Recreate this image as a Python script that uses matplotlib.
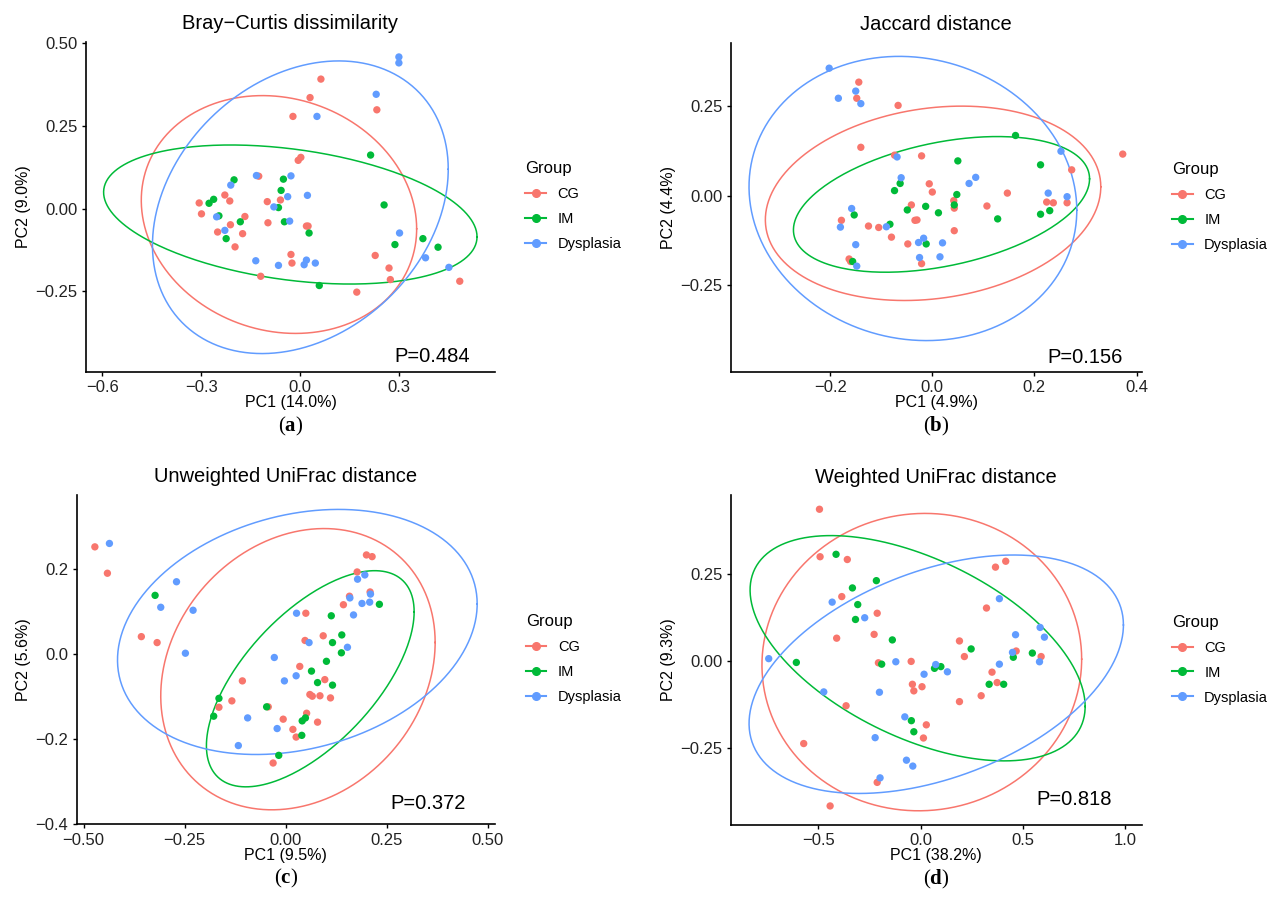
import numpy as np
import matplotlib
matplotlib.use("Agg")
import matplotlib.pyplot as plt
from matplotlib.lines import Line2D

plt.rcParams['font.family'] = ['Liberation Sans', 'DejaVu Sans']
plt.rcParams['mathtext.fontset'] = 'custom'
plt.rcParams['mathtext.rm'] = 'Liberation Serif'
plt.rcParams['mathtext.bf'] = 'Liberation Serif:bold'

groups = ["CG", "IM", "Dysplasia"]
colors = ["#F8766D", "#00BA38", "#619CFF"]

# (a) Bray-Curtis
a_cg_x = [-0.125, -0.228, -0.213, -0.306, -0.299, -0.167, -0.211, -0.250, -0.174, -0.197, -0.119, 0.064, 0.031, 0.234, -0.021, 0.003, -0.005, -0.099, -0.059, -0.097, 0.020, 0.025, -0.027, -0.024, 0.229, 0.271, 0.275, 0.486, 0.173]
a_cg_y = [0.098, 0.041, 0.023, 0.017, -0.016, -0.024, -0.049, -0.071, -0.076, -0.116, -0.205, 0.392, 0.336, 0.299, 0.279, 0.155, 0.146, 0.021, 0.026, -0.043, -0.053, -0.053, -0.139, -0.165, -0.142, -0.180, -0.215, -0.220, -0.253]
a_im_x = [-0.200, -0.262, -0.276, -0.246, -0.181, -0.224, 0.215, -0.050, -0.057, -0.065, 0.256, -0.047, 0.028, 0.374, 0.289, 0.420, 0.059]
a_im_y = [0.087, 0.028, 0.016, -0.022, -0.040, -0.091, 0.162, 0.089, 0.055, 0.003, 0.011, -0.040, -0.074, -0.091, -0.109, -0.117, -0.233]
a_dy_x = [-0.132, -0.210, -0.253, -0.228, -0.134, 0.301, 0.301, 0.232, 0.052, -0.027, -0.037, 0.023, -0.079, -0.031, 0.303, -0.065, 0.013, 0.020, 0.047, 0.382, 0.453]
a_dy_y = [0.100, 0.071, -0.025, -0.066, -0.158, 0.459, 0.441, 0.346, 0.279, 0.099, 0.036, 0.040, 0.005, -0.038, -0.074, -0.172, -0.170, -0.156, -0.165, -0.149, -0.178]

# (b) Jaccard
b_cg_x = [-0.144, -0.148, -0.067, -0.140, -0.074, -0.178, -0.125, -0.105, -0.080, -0.163, -0.160, 0.373, -0.021, 0.273, -0.006, 0.000, 0.147, 0.224, 0.237, 0.264, 0.042, 0.043, -0.041, 0.107, -0.034, -0.030, 0.043, -0.048, -0.021]
b_cg_y = [0.317, 0.272, 0.252, 0.135, 0.113, -0.069, -0.085, -0.089, -0.116, -0.177, -0.184, 0.116, 0.111, 0.072, 0.033, 0.010, 0.007, -0.018, -0.020, -0.020, -0.014, -0.035, -0.026, -0.029, -0.069, -0.068, -0.098, -0.135, -0.190]
b_im_x = [-0.063, -0.074, -0.153, -0.083, -0.156, 0.163, 0.050, 0.212, 0.048, 0.230, 0.212, 0.043, -0.049, -0.013, 0.012, 0.128, -0.012]
b_im_y = [0.034, 0.014, -0.054, -0.080, -0.184, 0.168, 0.097, 0.086, 0.003, -0.042, -0.052, -0.026, -0.040, -0.030, -0.048, -0.065, -0.135]
b_dy_x = [-0.202, -0.150, -0.140, -0.184, -0.069, -0.061, -0.158, -0.180, -0.090, -0.150, -0.148, 0.252, 0.085, 0.072, 0.227, 0.264, -0.027, -0.017, 0.020, -0.025, 0.015]
b_dy_y = [0.356, 0.292, 0.257, 0.272, 0.108, 0.050, -0.036, -0.088, -0.087, -0.137, -0.197, 0.124, 0.051, 0.034, 0.007, -0.003, -0.131, -0.119, -0.132, -0.173, -0.171]

# (c) Unweighted UniFrac
c_cg_x = [-0.472, -0.441, -0.357, -0.318, -0.107, -0.133, -0.165, 0.200, 0.214, 0.177, 0.209, 0.158, 0.143, 0.050, 0.093, 0.048, 0.035, 0.097, 0.060, 0.066, 0.085, 0.111, -0.043, 0.052, 0.079, -0.006, 0.018, 0.026, -0.031]
c_cg_y = [0.252, 0.190, 0.041, 0.027, -0.063, -0.110, -0.125, 0.233, 0.229, 0.193, 0.146, 0.136, 0.116, 0.096, 0.043, 0.032, -0.029, -0.060, -0.095, -0.099, -0.098, -0.103, -0.124, -0.139, -0.160, -0.153, -0.177, -0.195, -0.256]
c_im_x = [-0.323, -0.165, -0.178, 0.232, 0.113, 0.139, 0.116, 0.138, 0.101, 0.064, 0.079, 0.116, -0.047, 0.049, 0.041, 0.040, -0.017]
c_im_y = [0.138, -0.104, -0.146, 0.117, 0.090, 0.045, 0.027, 0.003, -0.017, -0.040, -0.067, -0.073, -0.124, -0.150, -0.157, -0.191, -0.238]
c_dy_x = [-0.436, -0.270, -0.309, -0.229, -0.248, -0.094, -0.117, 0.196, 0.178, 0.210, 0.159, 0.189, 0.208, 0.168, 0.027, 0.058, 0.153, -0.028, 0.026, -0.003, -0.021]
c_dy_y = [0.260, 0.170, 0.110, 0.103, 0.002, -0.150, -0.215, 0.186, 0.176, 0.141, 0.132, 0.119, 0.122, 0.092, 0.096, 0.027, 0.016, -0.008, -0.051, -0.063, -0.175]

# (d) Weighted UniFrac
d_cg_x = [-0.494, -0.491, -0.358, -0.385, -0.212, -0.227, -0.410, -0.206, -0.364, -0.571, -0.212, -0.442, 0.416, 0.366, 0.322, 0.190, 0.214, 0.467, 0.589, -0.046, 0.349, 0.374, -0.040, -0.033, 0.007, 0.296, 0.190, 0.028, 0.014]
d_cg_y = [0.438, 0.301, 0.293, 0.186, 0.138, 0.077, 0.066, -0.005, -0.129, -0.238, -0.350, -0.418, 0.288, 0.271, 0.153, 0.058, 0.013, 0.029, 0.013, -0.001, -0.032, -0.062, -0.067, -0.086, -0.074, -0.100, -0.117, -0.184, -0.222]
d_im_x = [-0.413, -0.216, -0.333, -0.307, -0.318, -0.138, -0.607, -0.190, 0.247, 0.453, 0.546, 0.068, 0.099, 0.335, 0.406, -0.045, -0.033]
d_im_y = [0.308, 0.232, 0.211, 0.163, 0.120, 0.061, -0.004, -0.009, 0.035, 0.011, 0.023, -0.021, -0.016, -0.067, -0.067, -0.172, -0.204]
d_dy_x = [-0.432, -0.273, -0.742, -0.121, -0.473, -0.201, -0.222, -0.198, 0.385, 0.584, 0.605, 0.464, 0.449, 0.581, 0.074, 0.017, 0.131, 0.385, -0.077, -0.069, -0.038]
d_dy_y = [0.170, 0.125, 0.007, -0.002, -0.089, -0.090, -0.221, -0.337, 0.180, 0.097, 0.069, 0.076, 0.025, -0.002, -0.010, -0.038, -0.031, -0.009, -0.161, -0.286, -0.303]

# ellipses: centre x, centre y, half-range x, half-range y, correlation
a_ell = [(-0.0635, -0.018, 0.4185, 0.360, -0.12), (-0.029, -0.018, 0.5675, 0.2105, -0.32), (0.0015, 0.004, 0.4495, 0.443, 0.26)]
b_ell = [(0.0015, -0.0215, 0.3285, 0.2715, 0.17), (0.018, -0.0245, 0.290, 0.1895, 0.377), (-0.038, -0.008, 0.321, 0.397, -0.083)]
c_ell = [(0.0305, -0.0355, 0.3395, 0.3305, 0.19), (0.061, -0.058, 0.257, 0.254, 0.62), (0.029, 0.052, 0.445, 0.288, 0.229)]
d_ell = [(0.006, -0.003, 0.781, 0.429, 0.02), (-0.0145, 0.037, 0.8185, 0.325, -0.517), (0.0765, -0.038, 0.9145, 0.344, 0.413)]

titles = ["Bray\u2212Curtis dissimilarity", "Jaccard distance", "Unweighted UniFrac distance", "Weighted UniFrac distance"]
xlabels = ["PC1 (14.0%)", "PC1 (4.9%)", "PC1 (9.5%)", "PC1 (38.2%)"]
ylabels = ["PC2 (9.0%)", "PC2 (4.4%)", "PC2 (5.6%)", "PC2 (9.3%)"]
pvals = ["P=0.484", "P=0.156", "P=0.372", "P=0.818"]
letters = ["a", "b", "c", "d"]

xticks = [[-0.6, -0.3, 0.0, 0.3], [-0.2, 0.0, 0.2, 0.4], [-0.5, -0.25, 0.0, 0.25, 0.5], [-0.5, 0.0, 0.5, 1.0]]
xticklabels = [["\u22120.6", "\u22120.3", "0.0", "0.3"], ["\u22120.2", "0.0", "0.2", "0.4"],
               ["\u22120.50", "\u22120.25", "0.00", "0.25", "0.50"], ["\u22120.5", "0.0", "0.5", "1.0"]]
yticks = [[-0.25, 0.0, 0.25, 0.5], [-0.25, 0.0, 0.25], [-0.4, -0.2, 0.0, 0.2], [-0.25, 0.0, 0.25]]
yticklabels = [["\u22120.25", "0.00", "0.25", "0.50"], ["\u22120.25", "0.00", "0.25"],
               ["\u22120.4", "\u22120.2", "0.0", "0.2"], ["\u22120.25", "0.00", "0.25"]]
xlims = [(-0.650, 0.593), (-0.395, 0.410), (-0.517, 0.518), (-0.928, 1.080)]
ylims = [(-0.494, 0.505), (-0.492, 0.427), (-0.400, 0.374), (-0.473, 0.479)]

points = [
    [(a_cg_x, a_cg_y), (a_im_x, a_im_y), (a_dy_x, a_dy_y)],
    [(b_cg_x, b_cg_y), (b_im_x, b_im_y), (b_dy_x, b_dy_y)],
    [(c_cg_x, c_cg_y), (c_im_x, c_im_y), (c_dy_x, c_dy_y)],
    [(d_cg_x, d_cg_y), (d_im_x, d_im_y), (d_dy_x, d_dy_y)],
]
ellipses = [a_ell, b_ell, c_ell, d_ell]

# axes boxes (left, bottom, width, height) in figure fractions
boxes = [(0.0674, 0.5915, 0.3205, 0.3626), (0.5726, 0.5915, 0.3221, 0.3615),
         (0.0601, 0.0942, 0.3278, 0.3619), (0.5726, 0.0934, 0.3221, 0.3626)]
ptext_pos = [(0.939, 0.045), (0.955, 0.042), (0.931, 0.062), (0.927, 0.077)]

fig = plt.figure(figsize=(12.76, 9.10), dpi=100)
t = np.linspace(0, 2 * np.pi, 300)

for i in range(4):
    ax = fig.add_axes(boxes[i])
    for g in range(3):
        cx, cy, sx, sy, r = ellipses[i][g]
        ex = cx + sx * np.cos(t)
        ey = cy + sy * (r * np.cos(t) + np.sqrt(1 - r ** 2) * np.sin(t))
        ax.plot(ex, ey, color=colors[g], lw=1.1, zorder=2)
    for g in range(3):
        px, py = points[i][g]
        ax.scatter(px, py, s=28, color=colors[g], edgecolors='none', zorder=3)

    ax.set_xlim(xlims[i])
    ax.set_ylim(ylims[i])
    ax.set_xticks(xticks[i])
    ax.set_xticklabels(xticklabels[i])
    ax.set_yticks(yticks[i])
    ax.set_yticklabels(yticklabels[i])
    ax.tick_params(labelsize=12, length=3, width=1.0, color='black', labelcolor='#222222', pad=3)
    for s in ['top', 'right']:
        ax.spines[s].set_visible(False)
    for s in ['left', 'bottom']:
        ax.spines[s].set_linewidth(1.2)
    ax.set_xlabel(xlabels[i], fontsize=11.5, labelpad=0)
    ax.set_ylabel(ylabels[i], fontsize=11.5, labelpad=3)
    ax.set_title(titles[i], fontsize=14.5, pad=9)
    ax.text(ptext_pos[i][0], ptext_pos[i][1], pvals[i], transform=ax.transAxes,
            ha='right', va='center', fontsize=14.5)

    handles = [Line2D([], [], color=colors[g], marker='o', markersize=5.5, lw=1.5) for g in range(3)]
    leg = ax.legend(handles, groups, title="Group", loc='upper left', bbox_to_anchor=(1.06, 0.655),
                    frameon=False, fontsize=10.5, title_fontsize=12, handlelength=1.4,
                    handletextpad=0.8, labelspacing=0.75, alignment='left', borderaxespad=0)

    # sub-figure letter under each panel
    x0, y0, w, h = boxes[i]
    fig.text(x0 + w / 2, y0 - 0.06, r"($\mathbf{%s}$)" % letters[i], ha='center', va='center',
             fontsize=15, family='Liberation Serif')

fig.savefig("out.png", dpi=100)
